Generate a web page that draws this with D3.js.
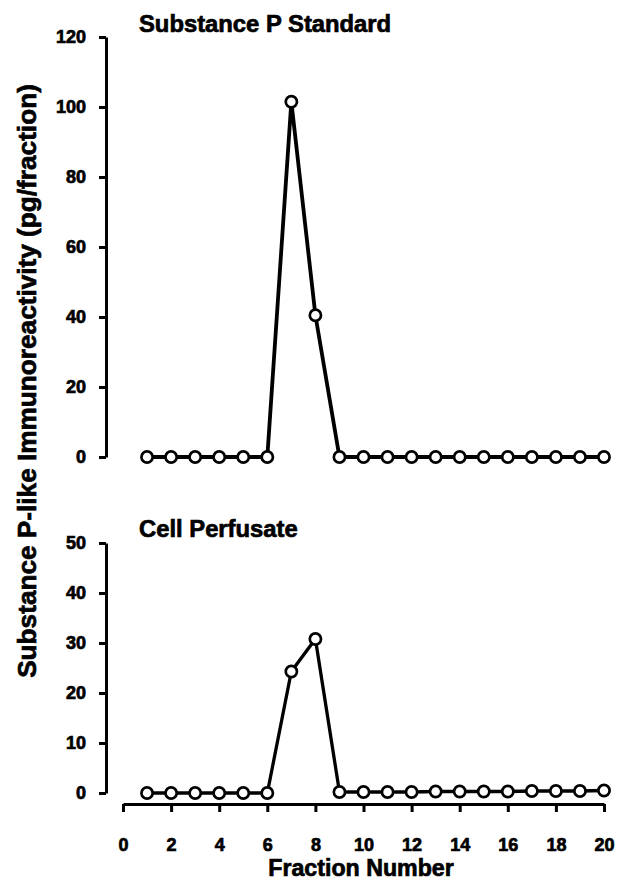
<!DOCTYPE html>
<html>
<head>
<meta charset="utf-8">
<script src="https://cdn.jsdelivr.net/npm/d3@7"></script>
<style>
  body { margin: 0; background: #fff; }
  svg text { font-family: "Liberation Sans", Arial, sans-serif; font-weight: bold; fill: #000; }
</style>
</head>
<body>
<svg id="chart" width="617" height="882"></svg>
<script>
// fractions collected off the column
const fractions = d3.range(1, 21);

// pg/fraction
const standardValues = [0, 0, 0, 0, 0, 0, 101.5, 40.5, 0, 0, 0, 0, 0, 0, 0, 0, 0, 0, 0, 0];
const perfusateValues = [0, 0, 0, 0, 0, 0, 24.3, 30.8, 0.2, 0.2, 0.2, 0.2, 0.3, 0.3, 0.3, 0.3, 0.4, 0.4, 0.4, 0.5];

const topTicks = [0, 20, 40, 60, 80, 100, 120];
const bottomTicks = [0, 10, 20, 30, 40, 50];
const xTicks = [0, 2, 4, 6, 8, 10, 12, 14, 16, 18, 20];

const svg = d3.select('#chart');

const x = d3.scaleLinear().domain([0, 20]).range([123, 604]);
const yTop = d3.scaleLinear().domain([0, 120]).range([457, 37]);
const yBot = d3.scaleLinear().domain([0, 50]).range([793, 543]);

const AXIS_X = 106;
const HEAVY = 0.7; // scanned type is heavier than the bold face, thicken it a bit

const draw_panel = function (yScale, ticks, values, title, titleY, lineW) {
    // y axis
    const g = svg.append('g')
        .attr('transform', `translate(${AXIS_X},0)`)
        .call(d3.axisLeft(yScale).tickValues(ticks).tickSize(7).tickSizeOuter(0).tickPadding(13));
    g.select('.domain').attr('stroke-width', 3);
    g.selectAll('.tick line').attr('stroke-width', 3);
    g.selectAll('.tick text')
        .attr('font-size', 18)
        .attr('stroke', '#000')
        .attr('stroke-width', HEAVY);

    // data line
    const pts = fractions.map((f, i) => [f, values[i]]);
    svg.append('path')
        .datum(pts)
        .attr('fill', 'none')
        .attr('stroke', '#000')
        .attr('stroke-width', lineW)
        .attr('stroke-linejoin', 'miter')
        .attr('d', d3.line().x(d => x(d[0])).y(d => yScale(d[1])));

    svg.append('g')
        .selectAll('circle')
        .data(pts)
        .enter().append('circle')
        .attr('cx', d => x(d[0]))
        .attr('cy', d => yScale(d[1]))
        .attr('r', 5.6)
        .attr('fill', '#fff')
        .attr('stroke', '#000')
        .attr('stroke-width', 2.7);

    svg.append('text')
        .attr('x', 139)
        .attr('y', titleY)
        .attr('font-size', 23.8)
        .attr('stroke', '#000')
        .attr('stroke-width', HEAVY)
        .text(title);
};

draw_panel(yTop, topTicks, standardValues, 'Substance P Standard', 32, 3.8);
draw_panel(yBot, bottomTicks, perfusateValues, 'Cell Perfusate', 537, 3.3);

// x axis, bottom panel only
const gx = svg.append('g')
    .attr('transform', 'translate(0,804)')
    .call(d3.axisBottom(x).tickValues(xTicks).tickSize(8).tickSizeOuter(0).tickPadding(26));
gx.select('.domain').attr('stroke-width', 3);
gx.selectAll('.tick line').attr('stroke-width', 3);
gx.selectAll('.tick text')
    .attr('font-size', 18)
    .attr('stroke', '#000')
    .attr('stroke-width', HEAVY);

// axis titles
svg.append('text')
    .attr('x', 361)
    .attr('y', 876)
    .attr('text-anchor', 'middle')
    .attr('font-size', 23.2)
    .attr('stroke', '#000')
    .attr('stroke-width', HEAVY)
    .text('Fraction Number');

svg.append('text')
    .attr('transform', 'translate(36,381) rotate(-90)')
    .attr('text-anchor', 'middle')
    .attr('font-size', 26.2)
    .attr('stroke', '#000')
    .attr('stroke-width', HEAVY)
    .text('Substance P-like Immunoreactivity (pg/fraction)');
</script>
</body>
</html>
